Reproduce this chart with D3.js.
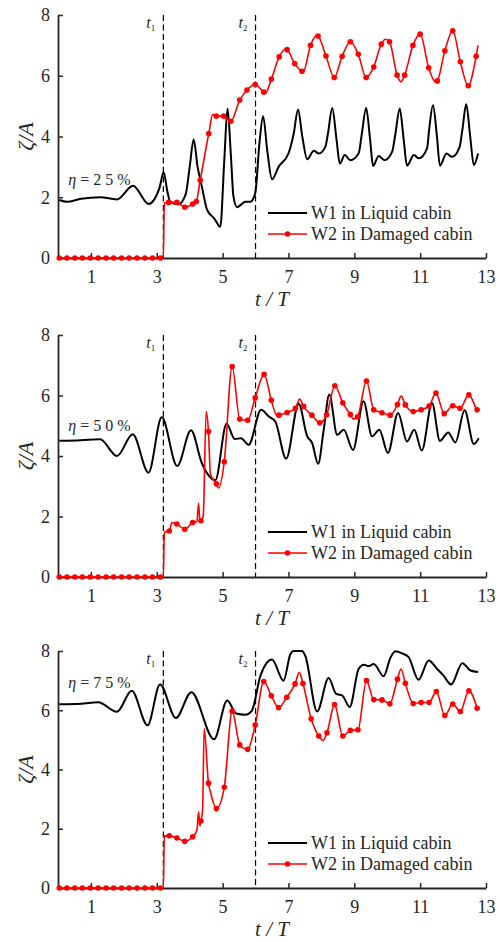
<!DOCTYPE html>
<html>
<head>
<meta charset="utf-8">
<script src="https://cdn.jsdelivr.net/npm/d3@7"></script>
<style>
body { margin: 0; background: #fff; }
svg { display: block; }
svg text { font-family: "Liberation Serif", "Times New Roman", serif; }
</style>
</head>
<body>
<svg id="draw" width="500" height="942"></svg>
<script>
// ---------------------------------------------------------------------------
// data: [t/T, zeta/A]

var tTicks = [1, 3, 5, 7, 9, 11, 13];
var yTicks = [0, 2, 4, 6, 8];
var tEvents = [3.2, 6.0];
var eventNames = ["1", "2"];
var etaLevels = ["25", "50", "75"];
var seriesNames = ["W1 in Liquid cabin", "W2 in Damaged cabin"];

// W2 markers before the damage opens (same in all three cases)
var w2Dry = [[0.04, 0], [0.27, 0], [0.51, 0], [0.74, 0], [0.98, 0], [1.22, 0], [1.46, 0],
    [1.69, 0], [1.93, 0], [2.16, 0], [2.40, 0], [2.64, 0], [2.87, 0], [3.11, 0]];

// eta = 25%
var w1_25 = [[0.04, 1.91], [0.27, 1.85], [0.7, 1.95], [1.28, 2.0], [1.79, 1.93], [2.28, 2.38],
    [2.75, 1.78], [3.08, 2.3], [3.21, 2.82], [3.32, 2.2], [3.41, 1.85], [3.66, 1.77], [3.88, 2.1],
    [4.0, 3.0], [4.12, 3.9], [4.24, 3.0], [4.37, 2.35], [4.53, 1.58], [4.75, 1.3], [4.93, 1.03],
    [5.05, 3.2], [5.15, 4.92], [5.25, 3.4], [5.33, 2.02], [5.44, 1.67], [5.54, 1.74], [5.69, 1.85],
    [5.84, 1.85], [5.99, 2.13], [6.12, 3.8], [6.23, 4.67], [6.36, 3.5], [6.5, 2.59], [6.7, 3.0],
    [7.0, 3.44], [7.16, 4.1], [7.29, 4.89], [7.42, 4.0], [7.57, 3.25], [7.77, 3.53], [7.92, 3.44],
    [8.12, 3.66], [8.2, 4.1], [8.33, 4.94], [8.46, 3.9], [8.56, 3.11], [8.71, 3.39], [8.88, 3.22],
    [9.13, 3.44], [9.23, 4.1], [9.36, 4.94], [9.48, 3.9], [9.57, 3.03], [9.74, 3.36], [9.92, 3.22],
    [10.15, 3.5], [10.25, 4.1], [10.38, 4.92], [10.5, 3.9], [10.6, 3.04], [10.81, 3.39], [10.96, 3.28],
    [11.21, 3.61], [11.27, 4.2], [11.39, 5.03], [11.51, 4.0], [11.6, 3.04], [11.8, 3.44], [11.97, 3.33],
    [12.2, 3.66], [12.28, 4.2], [12.4, 5.06], [12.52, 4.0], [12.63, 3.06], [12.76, 3.44]];
var w2_25 = [[3.36, 1.83], [3.61, 1.83], [3.85, 1.67], [4.09, 1.78], [4.2, 1.86], [4.32, 2.56],
    [4.58, 4.1], [4.81, 4.67], [5.03, 4.67], [5.25, 4.5], [5.52, 5.2], [5.74, 5.53], [5.99, 5.71],
    [6.25, 5.46], [6.48, 5.89], [6.72, 6.62], [6.96, 6.86], [7.19, 6.4], [7.41, 6.15], [7.67, 7.0],
    [7.9, 7.31], [8.14, 6.65], [8.39, 5.94], [8.63, 6.64], [8.88, 7.12], [9.12, 6.71], [9.36, 5.94],
    [9.59, 6.29], [9.82, 7.04], [10.07, 7.12], [10.3, 6.02], [10.53, 6.02], [10.78, 7.0], [11.0, 7.37],
    [11.26, 6.26], [11.52, 5.83], [11.75, 6.82], [11.99, 7.48], [12.22, 6.46], [12.46, 5.67], [12.7, 6.64]];
var w2x_25 = [[3.2, 0], [3.23, 1.82], [4.7, 4.72], [6.3, 5.43], [6.92, 6.88], [7.45, 6.14],
    [7.86, 7.33], [9.95, 7.2], [10.42, 5.8], [11.46, 5.8], [12.76, 7.0]];

// eta = 50%
var w1_50 = [[0.04, 4.5], [0.7, 4.52], [1.28, 4.55], [1.79, 4.0], [2.27, 4.72], [2.75, 3.45],
    [3.15, 5.28], [3.62, 3.67], [4.04, 4.85], [4.37, 3.76], [4.78, 3.2], [5.12, 5.07], [5.37, 4.56],
    [5.56, 4.59], [5.79, 4.37], [6.17, 5.53], [6.4, 5.31], [6.6, 5.14], [6.93, 3.91], [7.31, 5.73],
    [7.57, 4.65], [7.72, 4.43], [7.9, 3.74], [8.07, 4.86], [8.24, 6.03], [8.48, 4.7], [8.68, 4.87],
    [8.96, 4.2], [9.28, 5.81], [9.54, 4.65], [9.76, 4.87], [10.02, 4.1], [10.33, 5.42], [10.6, 4.48],
    [10.82, 4.87], [11.05, 4.18], [11.36, 5.75], [11.6, 4.5], [11.85, 4.78], [12.07, 4.45],
    [12.35, 5.51], [12.63, 4.4], [12.78, 4.59]];
var w2_50 = [[3.38, 1.52], [3.61, 1.75], [3.85, 1.58], [4.09, 1.8], [4.34, 1.86], [4.57, 4.81],
    [4.81, 3.08], [5.05, 3.81], [5.29, 6.96], [5.52, 5.22], [5.76, 5.18], [5.99, 5.92], [6.26, 6.7],
    [6.48, 5.84], [6.71, 5.35], [6.96, 5.44], [7.21, 5.58], [7.46, 5.64], [7.71, 5.35], [7.95, 5.1],
    [8.16, 5.36], [8.41, 6.32], [8.65, 5.76], [8.88, 5.37], [9.1, 5.3], [9.37, 6.48], [9.59, 5.53],
    [9.84, 5.43], [10.09, 5.35], [10.31, 5.7], [10.55, 5.69], [10.79, 5.47], [11.03, 5.53],
    [11.27, 5.65], [11.48, 6.08], [11.73, 5.4], [11.99, 5.66], [12.21, 5.58], [12.48, 6.02], [12.73, 5.53]];
var w2x_50 = [[3.2, 0], [3.23, 1.48], [3.46, 1.8], [4.22, 1.84], [4.27, 2.44], [4.31, 1.84],
    [4.41, 2.0], [4.5, 5.47], [4.63, 3.4], [4.88, 2.94], [6.65, 5.33], [7.34, 5.88], [8.98, 5.22],
    [10.42, 5.98], [12.78, 5.48]];

// eta = 75%
var w1_75 = [[0.04, 6.2], [0.7, 6.22], [1.22, 6.27], [1.79, 5.95], [2.24, 6.66], [2.72, 5.49],
    [3.1, 6.87], [3.58, 5.74], [4.05, 6.61], [4.74, 5.02], [5.14, 6.33], [5.41, 5.89], [5.69, 5.85],
    [5.89, 5.99], [6.15, 7.17], [6.5, 7.71], [6.85, 7.0], [7.06, 7.9], [7.16, 8.0], [7.41, 8.0],
    [7.51, 7.84], [7.87, 5.96], [8.22, 7.09], [8.45, 6.55], [8.63, 6.5], [8.86, 6.11], [9.13, 7.39],
    [9.29, 7.54], [9.43, 7.49], [9.59, 7.56], [9.89, 7.15], [10.1, 7.78], [10.25, 7.99], [10.45, 7.92],
    [10.65, 7.79], [10.95, 7.03], [11.26, 7.68], [11.51, 7.4], [11.71, 7.17], [11.94, 6.87],
    [12.28, 7.59], [12.53, 7.34], [12.76, 7.29]];
var w2_75 = [[3.38, 1.76], [3.61, 1.69], [3.85, 1.58], [4.09, 1.73], [4.34, 2.26], [4.57, 3.54],
    [4.81, 2.68], [5.05, 3.4], [5.29, 5.97], [5.52, 4.83], [5.76, 4.68], [5.99, 5.5], [6.25, 6.97],
    [6.48, 6.49], [6.7, 6.09], [6.95, 6.44], [7.2, 6.89], [7.44, 6.9], [7.69, 5.71], [7.92, 5.13],
    [8.17, 5.24], [8.4, 6.19], [8.65, 5.13], [8.88, 5.32], [9.11, 5.34], [9.37, 7.0], [9.59, 6.36],
    [9.84, 6.35], [10.08, 6.22], [10.31, 7.05], [10.55, 6.91], [10.79, 6.23], [11.03, 6.26],
    [11.27, 6.26], [11.49, 6.63], [11.75, 5.82], [11.99, 6.21], [12.22, 5.96], [12.48, 6.66], [12.73, 6.07]];
var w2x_75 = [[3.2, 0], [3.23, 1.76], [4.22, 1.95], [4.27, 2.57], [4.31, 2.1], [4.39, 2.6],
    [4.44, 5.38], [4.64, 3.2], [7.33, 7.28], [8.05, 4.98], [10.42, 7.39]];

// ---------------------------------------------------------------------------

var panels = [
    { eta: etaLevels[0], top: 15, bottom: 258, etaY: 185, w1: w1_25, w2: w2_25, w2x: w2x_25 },
    { eta: etaLevels[1], top: 335, bottom: 577, etaY: 431, w1: w1_50, w2: w2_50, w2x: w2x_50 },
    { eta: etaLevels[2], top: 651, bottom: 888, etaY: 688, w1: w1_75, w2: w2_75, w2x: w2x_75 }
];

var ink = "#262626";
var serif = "'Liberation Serif', 'Times New Roman', serif";
var svg = d3.select("#draw");
var xScale = d3.scaleLinear()
    .domain([0, 13])
    .range([58, 486]);

function drawpanel(p) {
    var yScale = d3.scaleLinear()
        .domain([0, 8])
        .range([p.bottom, p.top]);
    var line = d3.line()
        .x((d) => xScale(d[0]))
        .y((d) => yScale(d[1]))
        .curve(d3.curveMonotoneX);
    var g = svg.append("g");

    // axes, ticks pointing inward
    var xa = g.append("g")
        .attr("transform", "translate(0," + p.bottom + ")")
        .call(d3.axisBottom(xScale).tickValues(tTicks).tickSizeInner(-5).tickSizeOuter(0).tickPadding(12));
    var ya = g.append("g")
        .attr("transform", "translate(" + xScale(0) + ",0)")
        .call(d3.axisLeft(yScale).tickValues(yTicks).tickSizeInner(-5).tickSizeOuter(0).tickPadding(8));
    [xa, ya].forEach(function (a) {
        a.attr("font-family", serif).attr("font-size", 18);
        a.select(".domain").attr("stroke", ink).attr("stroke-width", 1.8);
        a.selectAll(".tick line").attr("stroke", ink).attr("stroke-width", 1.5);
        a.selectAll(".tick text").attr("fill", ink);
    });

    // damage events
    g.selectAll("line.event")
        .data(tEvents)
        .enter()
        .append("line")
        .attr("class", "event")
        .attr("x1", (d) => xScale(d))
        .attr("x2", (d) => xScale(d))
        .attr("y1", yScale(8))
        .attr("y2", yScale(0))
        .attr("stroke", "#000")
        .attr("stroke-width", 1.2)
        .attr("stroke-dasharray", "6,3.5");
    var ev = g.selectAll("text.event")
        .data(tEvents)
        .enter()
        .append("text")
        .attr("class", "event")
        .attr("x", (d) => xScale(d) - 17)
        .attr("y", p.top + 13)
        .attr("fill", ink)
        .style("font-size", "16px");
    ev.append("tspan").style("font-style", "italic").text("t");
    ev.append("tspan")
        .attr("dy", 3)
        .style("font-size", "9px")
        .text((d, i) => eventNames[i]);

    // series
    var w2all = p.w2x.concat(w2Dry, p.w2).sort((a, b) => a[0] - b[0]);
    g.append("path")
        .datum(p.w1)
        .attr("d", line)
        .attr("fill", "none")
        .attr("stroke", "#000")
        .attr("stroke-width", 2);
    g.append("path")
        .datum(w2all)
        .attr("d", line)
        .attr("fill", "none")
        .attr("stroke", "#ff0000")
        .attr("stroke-width", 1.6);
    g.selectAll("circle.mark")
        .data(w2Dry.concat(p.w2))
        .enter()
        .append("circle")
        .attr("class", "mark")
        .attr("cx", (d) => xScale(d[0]))
        .attr("cy", (d) => yScale(d[1]))
        .attr("r", 2.8)
        .attr("fill", "#ff0000");

    // eta label
    var et = g.append("text")
        .attr("x", xScale(0.31))
        .attr("y", p.etaY)
        .attr("fill", ink)
        .style("font-size", "16px");
    et.append("tspan").style("font-style", "italic").text("\u03b7");
    et.append("tspan").text(" = " + p.eta.split("").join(" ") + " %");

    // axis titles
    g.append("text")
        .attr("x", (xScale(0) + xScale(13)) / 2)
        .attr("y", p.bottom + 48)
        .attr("text-anchor", "middle")
        .attr("fill", ink)
        .style("font-size", "21px")
        .style("font-style", "italic")
        .text("t / T");
    g.append("text")
        .attr("transform", "translate(33," + (p.top + p.bottom) / 2 + ") rotate(-90)")
        .attr("text-anchor", "middle")
        .attr("fill", ink)
        .style("font-size", "22px")
        .style("font-style", "italic")
        .text("\u03b6/A");

    // legend
    var lg = g.selectAll("g.legend")
        .data(seriesNames)
        .enter()
        .append("g")
        .attr("class", "legend")
        .attr("transform", (d, i) => "translate(268," + (p.bottom - 45 + i * 21) + ")");
    lg.append("line")
        .attr("x1", 0)
        .attr("x2", 39)
        .attr("stroke", (d, i) => i == 0 ? "#000" : "#ff0000")
        .attr("stroke-width", (d, i) => i == 0 ? 2 : 1.6);
    lg.filter((d, i) => i == 1)
        .append("circle")
        .attr("cx", 19.5)
        .attr("r", 2.8)
        .attr("fill", "#ff0000");
    lg.append("text")
        .attr("x", 43)
        .attr("y", 6)
        .attr("fill", ink)
        .style("font-size", "18px")
        .text((d) => d);
}

panels.forEach(drawpanel);
</script>
</body>
</html>
